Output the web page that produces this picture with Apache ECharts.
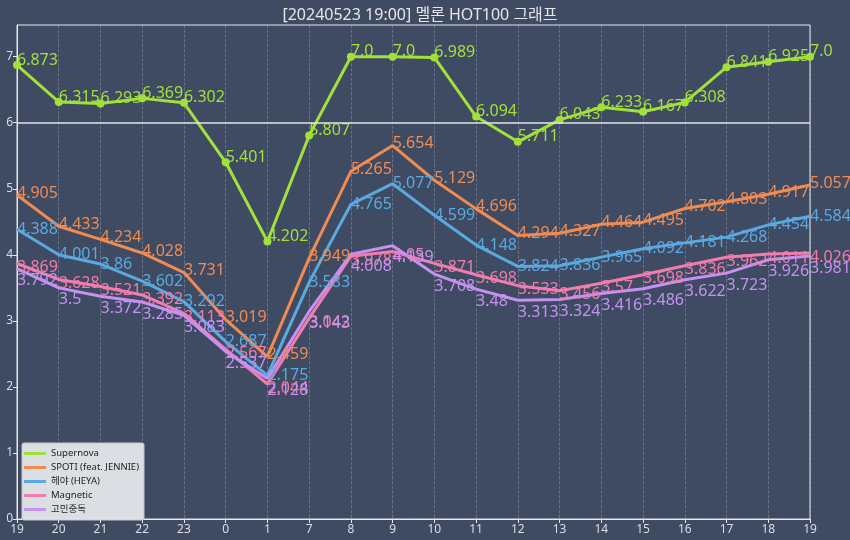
<!DOCTYPE html>
<html>
<head>
<meta charset="utf-8">
<script src="https://cdn.jsdelivr.net/npm/echarts@6/dist/echarts.min.js"></script>
<style>
html,body{margin:0;padding:0;background:#3f4a63;}
#chart{width:850px;height:540px;}
</style>
</head>
<body>
<div id="chart"></div>
<script>
const hours = ['19','20','21','22','23','0','1','7','8','9','10','11','12','13','14','15','16','17','18','19'];
const supernova = [6.873,6.315,6.293,6.369,6.302,5.401,4.202,5.807,7.0,7.0,6.989,6.094,5.711,6.043,6.233,6.167,6.308,6.841,6.925,7.0];
const spoti     = [4.905,4.433,4.234,4.028,3.731,3.019,2.459,3.949,5.265,5.654,5.129,4.696,4.294,4.327,4.464,4.495,4.702,4.803,4.917,5.057];
const heya      = [4.388,4.001,3.860,3.602,3.292,2.687,2.175,3.583,4.765,5.077,4.599,4.148,3.824,3.836,3.965,4.092,4.181,4.268,4.454,4.584];
const magnetic  = [3.869,3.628,3.521,3.392,3.113,2.567,2.044,3.042,3.978,4.05,3.871,3.698,3.533,3.456,3.57,3.698,3.836,3.962,4.011,4.026];
const gomin     = [3.792,3.5,3.372,3.285,3.083,2.537,2.128,3.143,4.008,4.139,3.708,3.48,3.313,3.324,3.416,3.486,3.622,3.723,3.926,3.981];
const yTicks = [0,1,2,3,4,5,6,7];

const names  = ['Supernova','SPOTI (feat. JENNIE)','헤야 (HEYA)','Magnetic','고민중독'];
const values = [supernova, spoti, heya, magnetic, gomin];
const colors = ['#a2e03a','#f08c52','#5aa9e0','#f27cae','#c592f2'];
// label placement per series (text was nudged off the lines in the original)
const labelVAlign = ['bottom', 'middle', 'middle', 'middle', 'top'];
const labelOffset = [[0, 3], [0, -2], [0, 0], [0, 4], [0, 4]];

const fmt = v => Number.isInteger(v) ? v.toFixed(1) : String(v);
const FONT = '"Noto Sans","Noto Sans CJK KR",sans-serif';

const series = values.map((vals, k) => {
  const s = {
    name: names[k],
    type: 'line',
    data: vals.map((v, i) => [i, v]),
    showSymbol: true,
    symbol: 'circle',
    symbolSize: k === 0 ? 8 : 1,
    lineStyle: { width: 3, color: colors[k] },
    itemStyle: { color: colors[k] },
    emphasis: { disabled: true },
    animation: false,
    label: {
      show: true,
      position: ['50%', '50%'],
      align: 'left',
      verticalAlign: labelVAlign[k],
      offset: labelOffset[k],
      color: colors[k],
      fontSize: 16,
      fontFamily: FONT,
      formatter: p => fmt(p.value[1])
    }
  };
  if (k === 0) {
    s.markLine = {
      silent: true,
      symbol: ['none', 'none'],
      label: { show: false },
      lineStyle: { color: '#e4e4e4', width: 1.5, type: 'solid' },
      data: [{ yAxis: 6 }],
      animation: false
    };
  }
  return s;
});

const chart = echarts.init(document.getElementById('chart'), null, { renderer: 'canvas' });
chart.setOption({
  backgroundColor: '#3f4a63',
  animation: false,
  color: colors,
  title: {
    text: '[20240523 19:00] 멜론 HOT100 그래프',
    left: 415, top: 2, textAlign: 'center',
    textStyle: { color: '#e6e6e6', fontSize: 16, fontWeight: 'normal', fontFamily: FONT }
  },
  legend: {
    orient: 'vertical',
    left: 22, top: 443,
    icon: 'rect',
    itemWidth: 22, itemHeight: 3,
    itemGap: 3,
    padding: [5, 5, 5, 2],
    backgroundColor: 'rgba(228,230,234,0.95)',
    borderColor: '#c8c8c8', borderWidth: 1, borderRadius: 2,
    itemStyle: { opacity: 1 },
    textStyle: { color: '#222', fontSize: 9.5, lineHeight: 11, fontFamily: FONT },
    data: names
  },
  grid: {
    left: 17, right: 40, top: 25, bottom: 21,
    show: true, borderColor: '#e8e8e8', borderWidth: 1, backgroundColor: 'transparent'
  },
  xAxis: {
    type: 'value', min: 0, max: hours.length - 1, interval: 1,
    axisLine: { show: true, lineStyle: { color: '#e8e8e8', width: 1 } },
    axisTick: { show: true, length: 4, lineStyle: { color: '#e8e8e8' } },
    axisLabel: { color: '#dddddd', fontSize: 12, margin: 5, fontFamily: FONT, formatter: v => hours[v] },
    splitLine: { show: true, lineStyle: { color: 'rgba(255,255,255,0.28)', type: 'dashed', width: 0.8 } }
  },
  yAxis: {
    type: 'value', min: 0, max: 7.48, interval: 1,
    axisLine: { show: true, lineStyle: { color: '#e8e8e8', width: 1 } },
    axisTick: { show: true, length: 4, lineStyle: { color: '#e8e8e8' } },
    axisLabel: { color: '#dddddd', fontSize: 12, margin: 4, fontFamily: FONT,
      showMaxLabel: false,
      formatter: v => yTicks.includes(v) ? String(v) : '' },
    splitLine: { show: false }
  },
  series: series
});
</script>
</body>
</html>
